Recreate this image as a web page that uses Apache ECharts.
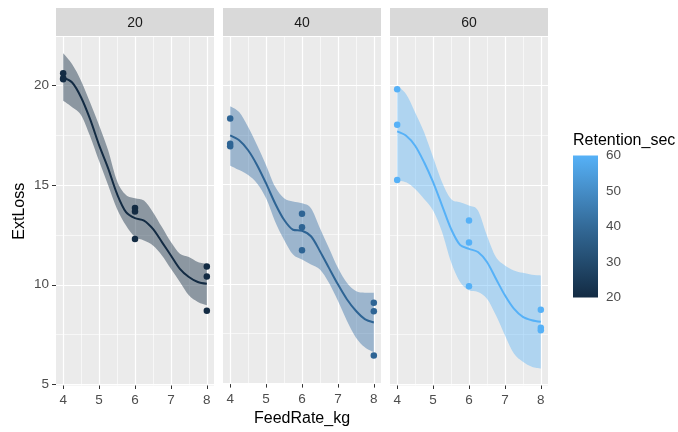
<!DOCTYPE html>
<html>
<head>
<meta charset="utf-8">
<script src="https://cdn.jsdelivr.net/npm/echarts@6/dist/echarts.min.js"></script>
<style>
html,body{margin:0;padding:0;background:#ffffff;}
#chart{width:678px;height:432px;}
</style>
</head>
<body>
<div id="chart"></div>
<script>
// ---------------- data ----------------
const retention = [20, 40, 60];
const groupColors = ['#132B43', '#2E6494', '#56B1F7'];
const ribbonColors = ['rgba(19,43,67,0.44)', 'rgba(38,100,160,0.4)', 'rgba(86,177,247,0.4)'];

const feedRate = [4, 4, 4, 6, 6, 6, 8, 8, 8];
const loss20 = [20.6, 20.35, 20.3, 13.85, 13.67, 12.3, 10.92, 10.42, 8.7];
const loss40 = [18.32, 17.05, 16.92, 13.52, 12.84, 11.69, 9.05, 8.62, 6.39];
const loss60 = [19.8, 18.02, 15.25, 13.22, 12.12, 9.92, 8.75, 7.85, 7.72];

const fitX = [4, 4.25, 4.5, 4.75, 5, 5.25, 5.5, 5.75, 6, 6.25, 6.5, 6.75, 7, 7.25, 7.5, 7.75, 8];
const fit20 = [20.39, 20.14, 19.39, 18.3, 17.0, 15.85, 14.55, 13.64, 13.34, 13.22, 12.8, 12.14, 11.47, 10.8, 10.39, 10.14, 10.05];
const upper20 = [21.6, 21.05, 20.22, 19.14, 18.0, 16.75, 15.2, 14.5, 14.34, 14.22, 13.64, 12.89, 12.14, 11.55, 11.39, 11.14, 11.05];
const lower20 = [19.22, 18.9, 18.5, 17.45, 16.2, 15.0, 13.8, 12.97, 12.39, 12.22, 11.97, 11.47, 10.8, 10.14, 9.47, 9.14, 8.97];

const fit40 = [17.47, 17.22, 16.72, 15.97, 15.05, 14.05, 13.22, 12.72, 12.67, 12.39, 11.64, 10.8, 9.97, 9.22, 8.64, 8.22, 8.05];
const upper40 = [18.94, 18.64, 17.89, 16.97, 15.97, 14.89, 14.3, 14.14, 14.05, 13.8, 12.8, 11.8, 10.8, 10.05, 9.64, 9.55, 9.55];
const lower40 = [15.94, 15.72, 15.47, 15.05, 14.3, 13.14, 12.22, 11.47, 11.22, 10.97, 10.72, 10.05, 9.14, 8.14, 7.3, 6.8, 6.55];

const fit60 = [17.69, 17.47, 16.97, 16.14, 15.14, 13.97, 12.8, 12.0, 11.8, 11.64, 11.14, 10.3, 9.47, 8.8, 8.39, 8.22, 8.14];
const upper60 = [19.97, 19.55, 18.64, 17.64, 16.39, 15.14, 14.3, 14.14, 13.97, 13.72, 12.47, 11.39, 10.97, 10.72, 10.6, 10.5, 10.47];
const lower60 = [15.22, 15.14, 14.8, 14.3, 13.72, 12.64, 11.14, 10.14, 9.72, 9.64, 9.3, 8.47, 7.47, 6.55, 6.14, 5.89, 5.8];

const xTicks = [4, 5, 6, 7, 8];
const xMinor = [4.5, 5.5, 6.5, 7.5];
const yTicks = [5, 10, 15, 20];
const yMinor = [7.5, 12.5, 17.5];
const legendTicks = [30, 40, 50];
const legendMin = 20, legendMax = 60;

const xLabel = 'FeedRate_kg';
const yLabel = 'ExtLoss';
const legendTitle = 'Retention_sec';

// ---------------- layout / style ----------------
const FONT = '"Liberation Sans", Arial, sans-serif';
const PANEL_LEFT = [56, 223, 390];
const PANEL_W = 158;
const PANEL_TOP = 37;
const PANEL_H = 348.5;
const STRIP_TOP = 8;
const STRIP_H = 28;
const X_MIN = 3.8, X_MAX = 8.2;
const Y_MIN = 4.95, Y_MAX = 22.42;
const CB = {left: 573, top: 155.5, width: 25, height: 142};

const scatterSets = [loss20, loss40, loss60];
const fitSets = [fit20, fit40, fit60];
const upperSets = [upper20, upper40, upper60];
const lowerSets = [lower20, lower40, lower60];

// Catmull-Rom spline through pixel points -> SVG cubic segments
function splineSegs(p) {
  let d = '';
  const n = p.length;
  for (let i = 0; i < n - 1; i++) {
    const p0 = p[Math.max(i - 1, 0)], p1 = p[i], p2 = p[i + 1], p3 = p[Math.min(i + 2, n - 1)];
    const c1x = p1[0] + (p2[0] - p0[0]) / 6, c1y = p1[1] + (p2[1] - p0[1]) / 6;
    const c2x = p2[0] - (p3[0] - p1[0]) / 6, c2y = p2[1] - (p3[1] - p1[1]) / 6;
    d += ' C' + c1x + ' ' + c1y + ' ' + c2x + ' ' + c2y + ' ' + p2[0] + ' ' + p2[1];
  }
  return d;
}

const grids = [];
const xAxes = [];
const yAxes = [];
const series = [];
const graphics = [];

PANEL_LEFT.forEach((left, i) => {
  grids.push({left: left, top: PANEL_TOP, width: PANEL_W, height: PANEL_H,
    show: true, backgroundColor: '#EBEBEB', borderWidth: 0, containLabel: false});

  xAxes.push({
    type: 'value', gridIndex: i, position: 'bottom', min: X_MIN, max: X_MAX,
    axisLine: {show: false},
    axisTick: {show: true, customValues: xTicks, length: 3.5, lineStyle: {color: '#333333', width: 1}},
    axisLabel: {show: true, customValues: xTicks, color: '#4D4D4D', fontSize: 13.5, fontFamily: FONT, margin: 8},
    splitLine: {show: true, lineStyle: {color: '#FFFFFF', width: 1.2}},
    name: i === 1 ? xLabel : '', nameLocation: 'middle', nameGap: 25,
    nameTextStyle: {color: '#000000', fontSize: 16, fontFamily: FONT}
  });
  xAxes.push({
    type: 'value', gridIndex: i, position: 'top', min: X_MIN, max: X_MAX,
    axisLine: {show: false},
    axisTick: {show: false, customValues: xMinor},
    axisLabel: {show: false, customValues: xMinor},
    splitLine: {show: true, lineStyle: {color: '#FFFFFF', width: 0.6}}
  });
  yAxes.push({
    type: 'value', gridIndex: i, position: 'left', min: Y_MIN, max: Y_MAX,
    axisLine: {show: false},
    axisTick: {show: i === 0, customValues: yTicks, length: 4, lineStyle: {color: '#333333', width: 1}},
    axisLabel: {show: i === 0, customValues: yTicks, color: '#4D4D4D', fontSize: 13.5, fontFamily: FONT, margin: 7},
    splitLine: {show: true, lineStyle: {color: '#FFFFFF', width: 1.2}},
    name: i === 0 ? yLabel : '', nameLocation: 'middle', nameGap: 28,
    nameTextStyle: {color: '#000000', fontSize: 16, fontFamily: FONT}
  });
  yAxes.push({
    type: 'value', gridIndex: i, position: 'right', min: Y_MIN, max: Y_MAX,
    axisLine: {show: false},
    axisTick: {show: false, customValues: yMinor},
    axisLabel: {show: false, customValues: yMinor},
    splitLine: {show: true, lineStyle: {color: '#FFFFFF', width: 0.6}}
  });

  const xi = 2 * i, yi = 2 * i;
  const up = upperSets[i], lo = lowerSets[i];
  series.push({
    type: 'custom', xAxisIndex: xi, yAxisIndex: yi, silent: true, clip: true,
    data: fitX.map((x, k) => [x, lo[k], up[k]]),
    encode: {x: 0, y: [1, 2]},
    renderItem: function (params, api) {
      if (params.dataIndex !== 0) return null;
      const upPts = fitX.map((x, k) => api.coord([x, up[k]]));
      const loPts = fitX.map((x, k) => api.coord([x, lo[k]])).reverse();
      let d = 'M' + upPts[0][0] + ' ' + upPts[0][1];
      d += splineSegs(upPts);
      d += ' L' + loPts[0][0] + ' ' + loPts[0][1];
      d += splineSegs(loPts);
      d += ' Z';
      return {type: 'path', shape: {pathData: d}, style: {fill: ribbonColors[i], stroke: null}};
    }
  });
  series.push({
    type: 'line', xAxisIndex: xi, yAxisIndex: yi, smooth: 0.3, symbol: 'none',
    lineStyle: {color: groupColors[i], width: 2},
    data: fitX.map((x, k) => [x, fitSets[i][k]])
  });
  series.push({
    type: 'scatter', xAxisIndex: xi, yAxisIndex: yi, symbol: 'circle', symbolSize: 6.5,
    itemStyle: {color: groupColors[i], opacity: 1},
    data: feedRate.map((x, k) => [x, scatterSets[i][k]])
  });

  graphics.push({type: 'rect', left: left, top: STRIP_TOP, silent: true,
    shape: {width: PANEL_W, height: STRIP_H}, style: {fill: '#D9D9D9'}});
  graphics.push({type: 'text', x: left + PANEL_W / 2, y: STRIP_TOP + STRIP_H / 2 + 1, silent: true,
    style: {text: String(retention[i]), fill: '#1A1A1A', font: '14px ' + FONT, align: 'center', verticalAlign: 'middle'}});
});

// ---------------- colour bar legend ----------------
grids.push({left: CB.left, top: CB.top, width: CB.width, height: CB.height, show: false});
xAxes.push({type: 'category', gridIndex: 3, data: ['bar'], show: false});
yAxes.push({
  type: 'value', gridIndex: 3, position: 'right', min: legendMin, max: legendMax, interval: 10,
  axisLine: {show: false},
  axisTick: {show: true, inside: true, customValues: legendTicks, length: 5, lineStyle: {color: '#FFFFFF', width: 1}},
  axisLabel: {show: true, color: '#4D4D4D', fontSize: 13.5, fontFamily: FONT, margin: 8},
  splitLine: {show: false}
});
yAxes.push({
  type: 'value', gridIndex: 3, position: 'left', min: legendMin, max: legendMax, interval: 10,
  axisLine: {show: false},
  axisTick: {show: true, inside: true, customValues: legendTicks, length: 4, lineStyle: {color: '#FFFFFF', width: 1}},
  axisLabel: {show: false},
  splitLine: {show: false}
});
series.push({
  type: 'bar', xAxisIndex: 6, yAxisIndex: 6, stack: 'cb', barWidth: '100%', silent: true,
  itemStyle: {color: 'rgba(0,0,0,0)'}, data: [legendMin], z: 1
});
series.push({
  type: 'bar', xAxisIndex: 6, yAxisIndex: 6, stack: 'cb', barWidth: '100%', silent: true, z: 1,
  itemStyle: {color: {type: 'linear', x: 0, y: 0, x2: 0, y2: 1, colorStops: [
    {offset: 0, color: '#56B1F7'}, {offset: 0.25, color: '#458DC7'}, {offset: 0.5, color: '#336A98'},
    {offset: 0.75, color: '#234B6E'}, {offset: 1, color: '#132B43'}]}},
  data: [legendMax - legendMin]
});
graphics.push({type: 'text', left: CB.left, top: 133, silent: true,
  style: {text: legendTitle, fill: '#000000', font: '16px ' + FONT}});

const chart = echarts.init(document.getElementById('chart'), null, {renderer: 'canvas'});
chart.setOption({
  animation: false,
  backgroundColor: '#FFFFFF',
  textStyle: {fontFamily: FONT},
  grid: grids,
  xAxis: xAxes,
  yAxis: yAxes,
  series: series,
  graphic: graphics
});
</script>
</body>
</html>
